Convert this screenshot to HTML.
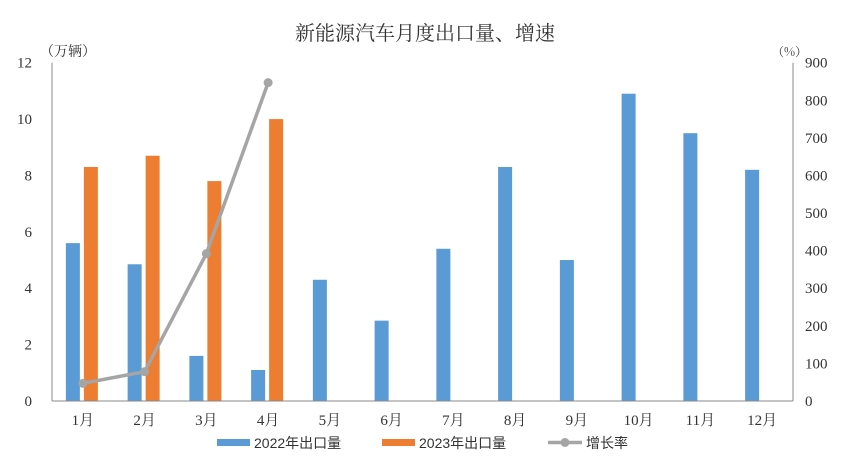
<!DOCTYPE html>
<html><head><meta charset="utf-8"><style>
body{margin:0;background:#fff;}
svg text{font-family:"Liberation Serif","Noto Serif CJK SC",serif;}
</style></head><body>
<svg id="chart" width="851" height="470" xmlns="http://www.w3.org/2000/svg">
<text x="425" y="40" text-anchor="middle" font-size="20" fill="#333" style="font-family:'Noto Serif CJK SC',serif">新能源汽车月度出口量、增速</text>
<text x="40" y="56" font-size="14" fill="#333" style="font-family:'Noto Serif CJK SC',serif">（万辆）</text>
<text x="772" y="56" font-size="12" fill="#333" style="font-family:'Noto Serif CJK SC',serif">（%）</text>
<g id="plot"></g>
<g id="legend"></g>
</svg>
<script>
const categories=["1月","2月","3月","4月","5月","6月","7月","8月","9月","10月","11月","12月"];
const exports2022=[5.6,4.85,1.6,1.1,4.3,2.85,5.4,8.3,5.0,10.9,9.5,8.2];
const exports2023=[8.3,8.7,7.8,10.0];
const growthRate=[47,78,392,847];
const leftTicks=[0,2,4,6,8,10,12];
const rightTicks=[0,100,200,300,400,500,600,700,800,900];
const NS="http://www.w3.org/2000/svg";
const X0=52,X1=793,Y0=401,Y1=62.7;
const band=(X1-X0)/categories.length;
const yL=v=>Y0-(v/12)*(Y0-Y1);
const yR=v=>Y0-(v/900)*(Y0-Y1);
const cx=i=>X0+band*(i+0.5);
const g=document.getElementById('plot');
function mk(tag,attrs,parent){const e=document.createElementNS(NS,tag);for(const k in attrs)e.setAttribute(k,attrs[k]);(parent||g).appendChild(e);return e;}
let e;
e=mk('line',{x1:X0,y1:Y1,x2:X0,y2:Y0,stroke:'#888','stroke-width':1});


e=mk('line',{x1:X1,y1:Y1,x2:X1,y2:Y0,stroke:'#888','stroke-width':1});


leftTicks.forEach(v=>{e=mk('text',{x:X0-20,y:yL(v)+5,'text-anchor':'end','font-size':15,fill:'#333'});e.textContent=v;

});
rightTicks.forEach(v=>{e=mk('text',{x:X1+12,y:yR(v)+5,'font-size':15,fill:'#333'});e.textContent=v;

});
categories.forEach((c,i)=>{e=mk('text',{x:cx(i),y:Y0+24,'text-anchor':'middle','font-size':15,fill:'#333'});e.textContent=c;

});
exports2022.forEach((v,i)=>{e=mk('rect',{x:cx(i)-17,y:yL(v),width:14,height:Y0-yL(v),fill:'#5b9bd5'});

});
exports2023.forEach((v,i)=>{e=mk('rect',{x:cx(i)+1,y:yL(v),width:14,height:Y0-yL(v),fill:'#ed7d31'});

});
e=mk('line',{x1:X0,y1:Y0,x2:X1,y2:Y0,stroke:'#888','stroke-width':1});


e=mk('polyline',{points:growthRate.map((v,i)=>cx(i)+','+yR(v)).join(' '),fill:'none',stroke:'#a5a5a5','stroke-width':3.5,'stroke-linejoin':'round'});


growthRate.forEach((v,i)=>{e=mk('circle',{cx:cx(i),cy:yR(v),r:4.5,fill:'#a5a5a5'});

});
const lg=document.getElementById('legend');
e=mk('rect',{x:217,y:439,width:33,height:7,fill:'#5b9bd5'},lg);


e=mk('text',{x:254,y:448,'font-size':14,fill:'#333',style:"font-family:'Liberation Sans','Noto Sans CJK SC',sans-serif"},lg);e.textContent='2022年出口量';


e=mk('rect',{x:382,y:439,width:33,height:7,fill:'#ed7d31'},lg);


e=mk('text',{x:419,y:448,'font-size':14,fill:'#333',style:"font-family:'Liberation Sans','Noto Sans CJK SC',sans-serif"},lg);e.textContent='2023年出口量';


e=mk('line',{x1:548,y1:442.5,x2:582,y2:442.5,stroke:'#a5a5a5','stroke-width':3.5},lg);


e=mk('circle',{cx:565,cy:442.5,r:4.5,fill:'#a5a5a5'},lg);


e=mk('text',{x:586,y:448,'font-size':14,fill:'#333',style:"font-family:'Noto Sans CJK SC',sans-serif"},lg);e.textContent='增长率';


</script>
</body></html>
